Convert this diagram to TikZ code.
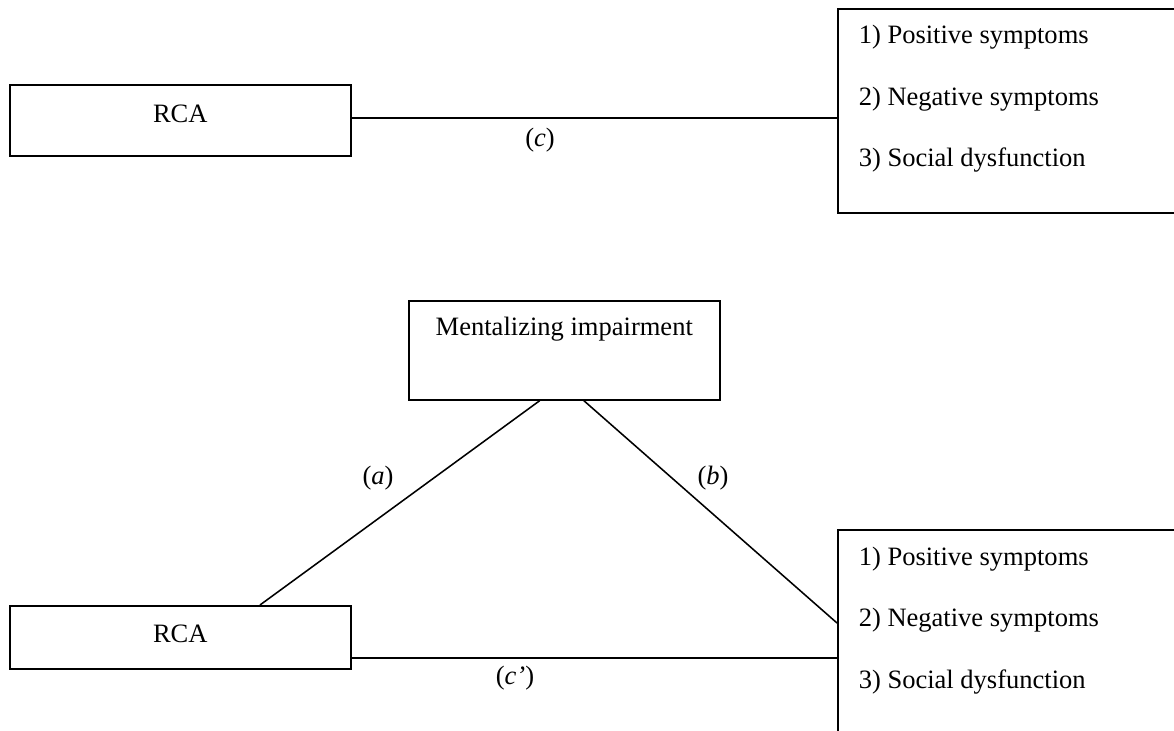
\documentclass[tikz,border=0pt]{standalone}
\usepackage{fontspec}
\setmainfont{Liberation Serif}
\usetikzlibrary{calc}

\tikzset{
  box/.style={draw, anchor=north west, inner sep=0pt},
  item/.style={anchor=base west, inner sep=0pt},
}

\begin{document}
\begin{tikzpicture}[x=0.0159cm, y=-0.0159cm, line width=0.7pt, font=\fontsize{12}{14}\selectfont]
    \useasboundingbox (0,0) rectangle (1174,731);
    \clip (0,0) rectangle (1174,731);
    % total effect
    \node[box, minimum width=5.422cm, text height=0.596cm, text depth=0.533cm] (rcaA) at (9,84) {RCA};
    \node[box, minimum width=5.454cm, minimum height=3.244cm] (outA) at (837,8) {};
    \foreach \t [count=\i] in {1) Positive symptoms, 2) Negative symptoms, 3) Social dysfunction}
        \node[item] (outA\i) at ($(outA.north west)+(21,{36+61.5*(\i-1)})$) {\t};
    \coordinate (cA) at ($(rcaA.east)+(0,-2.5)$);
    \draw (cA) -- (cA -| outA.west);
    \node (labC) at (540,140) {(\textit{c})};
    % mediation
    \node[box, minimum width=4.945cm, text height=0.557cm, text depth=1.018cm] (med) at (408,300) {Mentalizing impairment};
    \node[box, minimum width=5.422cm, text height=0.580cm, text depth=0.421cm] (rcaB) at (9,605) {RCA};
    \node[box, minimum width=5.454cm, minimum height=3.244cm] (outB) at (837,529) {};
    \foreach \t [count=\i] in {1) Positive symptoms, 2) Negative symptoms, 3) Social dysfunction}
        \node[item] (outB\i) at ($(outB.north west)+(21,{36+61.5*(\i-1)})$) {\t};
    \draw ($(med.south)+(-24.5,0)$) -- ($(rcaB.north west)+(251,0)$);
    \draw ($(med.south)+(19.5,0)$) -- ($(outB.north west)+(0,94)$);
    \coordinate (cB) at ($(rcaB.east)+(0,20.5)$);
    \draw (cB) -- (cB -| outB.west);
    \node (labA) at (378,478) {(\textit{a})};
    \node (labB) at (713,478) {(\textit{b})};
    \node (labCp) at (515,678) {(\textit{c’})};
\end{tikzpicture}
\end{document}
